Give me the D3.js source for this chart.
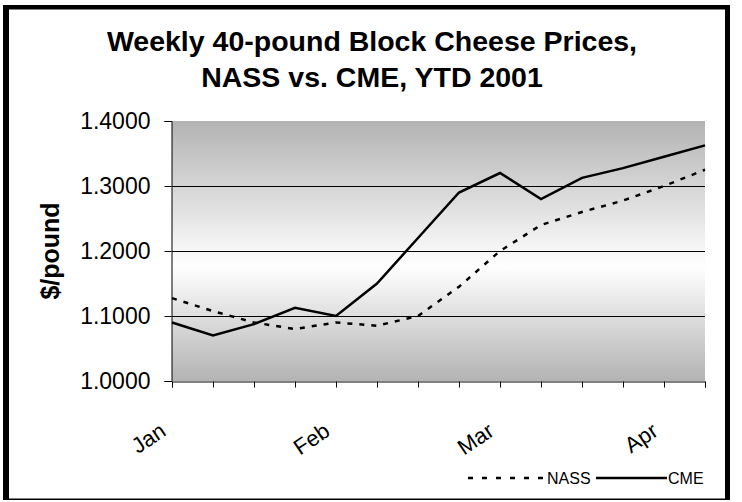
<!DOCTYPE html>
<html>
<head>
<meta charset="utf-8">
<script src="https://cdn.jsdelivr.net/npm/d3@7"></script>
<style>
  body { margin: 0; background: #fff; }
  svg { display: block; font-family: "Liberation Sans", Arial, sans-serif; }
</style>
</head>
<body>
<div id="chart"></div>
<script>
// weekly points, month label on every 4th week
const weekLabels = ["Jan", "", "", "", "Feb", "", "", "", "Mar", "", "", "", "Apr", ""];
const nass = [1.1275, 1.1075, 1.0900, 1.0800, 1.0900, 1.0850, 1.1000, 1.1450, 1.2000, 1.2400, 1.2600, 1.2775, 1.3000, 1.3250];
const cme = [1.0900, 1.0700, 1.0875, 1.1125, 1.1000, 1.1500, 1.2200, 1.2900, 1.3200, 1.2800, 1.3125, 1.3275, 1.3450, 1.3625];
const yTicks = [1.0, 1.1, 1.2, 1.3, 1.4];
const titleLines = ["Weekly 40-pound Block Cheese Prices,", "NASS vs. CME, YTD 2001"];

const main = function() {
  const W = 742, H = 502;
  const svg = d3.select("#chart").append("svg")
    .attr("width", W)
    .attr("height", H);

  // outer frame (thick left/top/right, thin bottom)
  svg.append("rect").attr("x", 3).attr("y", 5).attr("width", 727).attr("height", 495).attr("fill", "#000");
  svg.append("rect").attr("x", 9).attr("y", 9.5).attr("width", 716).attr("height", 489).attr("fill", "#fff");

  const left = 172, right = 705, top = 121, bottom = 381;

  const x = d3.scalePoint()
    .domain(d3.range(weekLabels.length))
    .range([left, right]);
  const y = d3.scaleLinear()
    .domain([1.0, 1.4])
    .range([bottom, top]);

  // plot background gradient
  const grad = svg.append("defs").append("linearGradient")
    .attr("id", "bg").attr("x1", 0).attr("y1", 0).attr("x2", 0).attr("y2", 1);
  grad.append("stop").attr("offset", 0).attr("stop-color", "#b3b3b3");
  grad.append("stop").attr("offset", 0.56).attr("stop-color", "#ffffff");
  grad.append("stop").attr("offset", 1).attr("stop-color", "#b3b3b3");

  svg.append("rect")
    .attr("x", left).attr("y", top)
    .attr("width", right - left).attr("height", bottom - top)
    .attr("fill", "url(#bg)");

  // gridlines
  svg.selectAll(".grid")
    .data(yTicks.filter(d => d > 1.0 && d < 1.4))
    .enter()
    .append("line")
    .attr("x1", left).attr("x2", right)
    .attr("y1", d => Math.round(y(d)) + 0.5)
    .attr("y2", d => Math.round(y(d)) + 0.5)
    .attr("stroke", "#000")
    .attr("stroke-width", 1);

  // y axis
  const yAxis = svg.append("g")
    .attr("transform", "translate(" + (left - 0.5) + ",0)")
    .call(d3.axisLeft(y).tickValues(yTicks).tickFormat(d3.format(".4f")).tickSize(7).tickPadding(14));
  yAxis.select(".domain").attr("stroke", "#000");
  yAxis.selectAll("text")
    .style("font-size", "23px")
    .attr("fill", "#000");

  // x axis
  const xAxis = svg.append("g")
    .attr("transform", "translate(0," + (bottom + 0.5) + ")")
    .call(d3.axisBottom(x).tickSize(6).tickFormat(i => weekLabels[i]));
  xAxis.select(".domain").attr("stroke", "#000");
  xAxis.selectAll("text")
    .attr("y", 0)
    .attr("dy", 0)
    .attr("text-anchor", "end")
    .attr("transform", "translate(-5,53) rotate(-34)")
    .style("font-size", "22px")
    .attr("fill", "#000");

  const line = d3.line()
    .x((d, i) => x(i))
    .y(d => y(d));

  svg.append("path")
    .datum(nass)
    .attr("d", line)
    .attr("fill", "none")
    .attr("stroke", "#000")
    .attr("stroke-width", 2.5)
    .attr("stroke-dasharray", "5,7");

  svg.append("path")
    .datum(cme)
    .attr("d", line)
    .attr("fill", "none")
    .attr("stroke", "#000")
    .attr("stroke-width", 2.5);

  // title
  svg.selectAll(".title")
    .data(titleLines)
    .enter()
    .append("text")
    .attr("x", 372)
    .attr("y", (d, i) => 51 + i * 36)
    .attr("text-anchor", "middle")
    .style("font-size", "28.5px")
    .style("font-weight", "bold")
    .text(d => d);

  // y title
  svg.append("text")
    .attr("transform", "translate(59,251) rotate(-90)")
    .attr("text-anchor", "middle")
    .style("font-size", "25px")
    .style("font-weight", "bold")
    .text("$/pound");

  // legend
  const ly = 478;
  svg.append("line")
    .attr("x1", 468).attr("x2", 545).attr("y1", ly).attr("y2", ly)
    .attr("stroke", "#000").attr("stroke-width", 2.5).attr("stroke-dasharray", "5,9");
  svg.append("text")
    .attr("x", 547).attr("y", ly + 6)
    .style("font-size", "16px")
    .text("NASS");
  svg.append("line")
    .attr("x1", 596).attr("x2", 667).attr("y1", ly).attr("y2", ly)
    .attr("stroke", "#000").attr("stroke-width", 2.5);
  svg.append("text")
    .attr("x", 668).attr("y", ly + 6)
    .style("font-size", "16px")
    .text("CME");
};

window.onload = main;
</script>
</body>
</html>
